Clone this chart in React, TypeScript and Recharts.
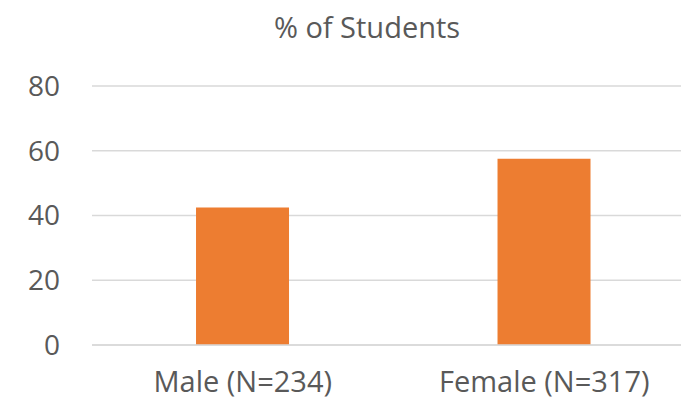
import { Bar, BarChart, CartesianGrid, XAxis, YAxis } from "recharts";

const categories = ["Male (N=234)", "Female (N=317)"];
const percentStudents = [42.5, 57.5];
const yTicks = [0, 20, 40, 60, 80];

const data = categories.map((name, i) => ({ name, value: percentStudents[i] }));

const FONT = "'Open Sans', sans-serif";
const TEXT = "#595959";

export default function App() {
  return (
    <div
      style={{
        position: "absolute",
        left: 0,
        top: 0,
        width: 681,
        height: 404,
        overflow: "hidden",
        background: "#fff",
      }}
    >
      <div
        style={{
          position: "absolute",
          left: 0,
          top: 5,
          width: 734,
          textAlign: "center",
          fontFamily: FONT,
          fontSize: 29,
          color: TEXT,
          lineHeight: "44px",
        }}
      >
        % of Students
      </div>
      <BarChart
        width={695}
        height={404}
        data={data}
        margin={{ top: 86, right: 0, left: 0, bottom: 0 }}
        barCategoryGap="34.5%"
      >
        <CartesianGrid vertical={false} stroke="#D9D9D9" strokeWidth={1.5} />
        <XAxis
          dataKey="name"
          height={59}
          axisLine={{ stroke: "#D9D9D9", strokeWidth: 1.5 }}
          tickLine={false}
          tickSize={0}
          tickMargin={26}
          tick={{ fontFamily: FONT, fontSize: 29, fill: TEXT }}
        />
        <YAxis
          domain={[0, 80]}
          ticks={yTicks}
          width={92}
          axisLine={false}
          tickLine={false}
          tickSize={0}
          tickMargin={32}
          tick={{ fontFamily: FONT, fontSize: 28, fill: TEXT }}
        />
        <Bar dataKey="value" fill="#ED7D31" isAnimationActive={false} />
      </BarChart>
    </div>
  );
}
